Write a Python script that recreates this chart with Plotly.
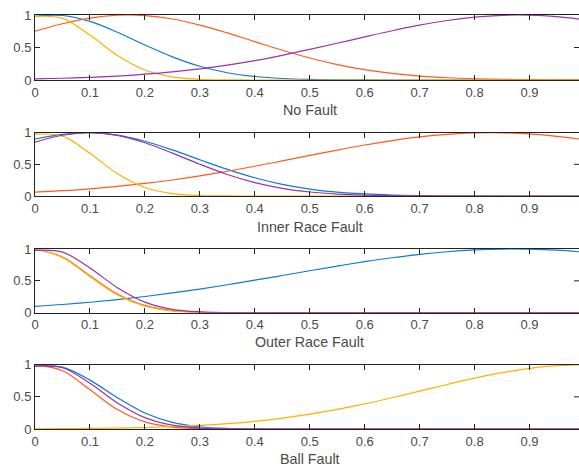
import plotly.graph_objects as go

# x sample positions (input variable)
x_vals = [0.00, 0.05, 0.10, 0.15, 0.20, 0.25, 0.30, 0.35, 0.40, 0.45, 0.50,
          0.55, 0.60, 0.65, 0.70, 0.75, 0.80, 0.85, 0.90, 0.95, 1.00]

titles = ["No Fault", "Inner Race Fault", "Outer Race Fault", "Ball Fault"]

# membership values (mf1..mf4 per panel)
no_fault_mf1 = [0.981, 0.992, 0.901, 0.735, 0.539, 0.356, 0.211, 0.112, 0.054, 0.023, 0.009,
                0.003, 0.001, 0, 0, 0, 0, 0, 0, 0, 0]
no_fault_mf2 = [0.750, 0.866, 0.952, 0.996, 0.991, 0.938, 0.845, 0.724, 0.590, 0.458, 0.338,
                0.237, 0.159, 0.101, 0.061, 0.035, 0.019, 0.010, 0.005, 0.002, 0.001]
no_fault_mf3 = [0.977, 0.949, 0.691, 0.376, 0.154, 0.047, 0.011, 0.002, 0, 0, 0,
                0, 0, 0, 0, 0, 0, 0, 0, 0, 0]
no_fault_mf4 = [0.017, 0.027, 0.041, 0.061, 0.089, 0.125, 0.172, 0.230, 0.299, 0.380, 0.470,
                0.565, 0.663, 0.758, 0.844, 0.915, 0.967, 0.995, 0.998, 0.975, 0.927]

inner_mf1 = [0.900, 0.975, 1.000, 0.962, 0.865, 0.728, 0.572, 0.420, 0.288, 0.184, 0.110,
             0.061, 0.032, 0.015, 0.007, 0.003, 0.001, 0, 0, 0, 0]
inner_mf2 = [0.060, 0.084, 0.114, 0.152, 0.198, 0.253, 0.318, 0.391, 0.470, 0.555, 0.641,
             0.726, 0.806, 0.876, 0.933, 0.974, 0.996, 0.998, 0.980, 0.943, 0.889]
inner_mf3 = [0.976, 0.946, 0.674, 0.352, 0.135, 0.038, 0.008, 0.001, 0, 0, 0,
             0, 0, 0, 0, 0, 0, 0, 0, 0, 0]
inner_mf4 = [0.850, 0.960, 1.000, 0.958, 0.841, 0.678, 0.501, 0.339, 0.211, 0.120, 0.063,
             0.030, 0.013, 0.005, 0.002, 0, 0, 0, 0, 0, 0]

outer_mf1 = [0.100, 0.129, 0.164, 0.206, 0.254, 0.310, 0.371, 0.439, 0.510, 0.584, 0.659,
             0.732, 0.801, 0.863, 0.916, 0.957, 0.985, 0.999, 0.997, 0.981, 0.950]
outer_mf2 = [1.000, 0.873, 0.581, 0.295, 0.114, 0.034, 0.008, 0.001, 0, 0, 0,
             0, 0, 0, 0, 0, 0, 0, 0, 0, 0]
outer_mf3 = [1.000, 0.868, 0.568, 0.280, 0.104, 0.029, 0.006, 0.001, 0, 0, 0,
             0, 0, 0, 0, 0, 0, 0, 0, 0, 0]
outer_mf4 = [0.978, 0.951, 0.701, 0.392, 0.166, 0.053, 0.013, 0.002, 0, 0, 0,
             0, 0, 0, 0, 0, 0, 0, 0, 0, 0]

ball_mf1 = [0.983, 0.962, 0.760, 0.485, 0.249, 0.104, 0.035, 0.009, 0.002, 0, 0,
            0, 0, 0, 0, 0, 0, 0, 0, 0, 0]
ball_mf2 = [0.994, 0.907, 0.611, 0.303, 0.111, 0.030, 0.006, 0.001, 0, 0, 0,
            0, 0, 0, 0, 0, 0, 0, 0, 0, 0]
ball_mf3 = [0.003, 0.005, 0.009, 0.014, 0.023, 0.037, 0.056, 0.083, 0.120, 0.169, 0.230,
            0.304, 0.390, 0.486, 0.589, 0.692, 0.790, 0.876, 0.943, 0.985, 1.000]
ball_mf4 = [0.979, 0.953, 0.710, 0.405, 0.177, 0.059, 0.015, 0.003, 0, 0, 0,
            0, 0, 0, 0, 0, 0, 0, 0, 0, 0]

panels = [
    [no_fault_mf1, no_fault_mf2, no_fault_mf3, no_fault_mf4],
    [inner_mf1, inner_mf2, inner_mf3, inner_mf4],
    [outer_mf1, outer_mf2, outer_mf3, outer_mf4],
    [ball_mf1, ball_mf2, ball_mf3, ball_mf4],
]

x_ticks = [0, 0.1, 0.2, 0.3, 0.4, 0.5, 0.6, 0.7, 0.8, 0.9]
x_tick_text = ["0", "0.1", "0.2", "0.3", "0.4", "0.5", "0.6", "0.7", "0.8", "0.9"]
y_ticks = [0, 0.5, 1]
y_tick_text = ["0", "0.5", "1"]

colors = ["#0C7BD0", "#FF5A1F", "#FFB000", "#9B32A8"]

W, H = 579, 470
# pixel positions (top, bottom) of each axes box
boxes = [(15, 80), (132.7, 196), (249, 312.7), (364.7, 429)]
title_y = [110, 226.7, 342, 459]
x_left = 35
px_per_unit = 549.5

FONT = "Liberation Sans, Arial, sans-serif"
TXT = "#4a4a4a"
fig = go.Figure()
layout = dict(
    width=W, height=H,
    margin=dict(l=0, r=0, t=0, b=0, pad=0, autoexpand=False),
    paper_bgcolor="white", plot_bgcolor="white",
    showlegend=False,
    font=dict(family=FONT, size=13, color=TXT),
    annotations=[], shapes=[],
)

for i, curves in enumerate(panels):
    xa = "x" if i == 0 else f"x{i+1}"
    ya = "y" if i == 0 else f"y{i+1}"
    for j, yv in enumerate(curves):
        fig.add_trace(go.Scatter(
            x=x_vals, y=yv, mode="lines", xaxis=xa, yaxis=ya,
            line=dict(color=colors[j], width=1.2, shape="spline", smoothing=1.0),
            hoverinfo="skip",
        ))
    top, bot = boxes[i]
    xk = "xaxis" if i == 0 else f"xaxis{i+1}"
    yk = "yaxis" if i == 0 else f"yaxis{i+1}"
    layout[xk] = dict(
        domain=[x_left / W, 1], range=[0, (W - x_left) / px_per_unit],
        anchor=ya, tickmode="array", tickvals=x_ticks, ticktext=x_tick_text,
        ticks="inside", ticklen=5, tickcolor="#222", tickwidth=1,
        showline=True, linecolor="#222", linewidth=1, mirror="ticks",
        showgrid=False, zeroline=False, fixedrange=True, automargin=False,
        tickfont=dict(family=FONT, size=13, color=TXT),
    )
    layout[yk] = dict(
        domain=[1 - bot / H, 1 - top / H], range=[0, 1],
        anchor=xa, tickmode="array", tickvals=y_ticks, ticktext=y_tick_text,
        ticks="inside", ticklen=5, tickcolor="#222", tickwidth=1,
        showline=True, linecolor="#222", linewidth=1, mirror=False,
        showgrid=False, zeroline=False, fixedrange=True, automargin=False,
        tickfont=dict(family=FONT, size=13, color=TXT),
    )
    layout["annotations"].append(dict(
        text=titles[i], xref=xa, yref="paper", x=0.5, y=1 - title_y[i] / H,
        xanchor="center", yanchor="middle", showarrow=False,
        font=dict(family=FONT, size=14.3, color=TXT),
    ))
    # right-side mirrored tick at 0.5 (box edge lies just outside the window)
    layout["shapes"].append(dict(
        type="line", xref=f"{xa} domain", yref=ya, x0=1 - 5 / (W - x_left), x1=1,
        y0=0.5, y1=0.5, line=dict(color="#222", width=1),
    ))

fig.update_layout(**layout)
fig.write_html("out.html")
